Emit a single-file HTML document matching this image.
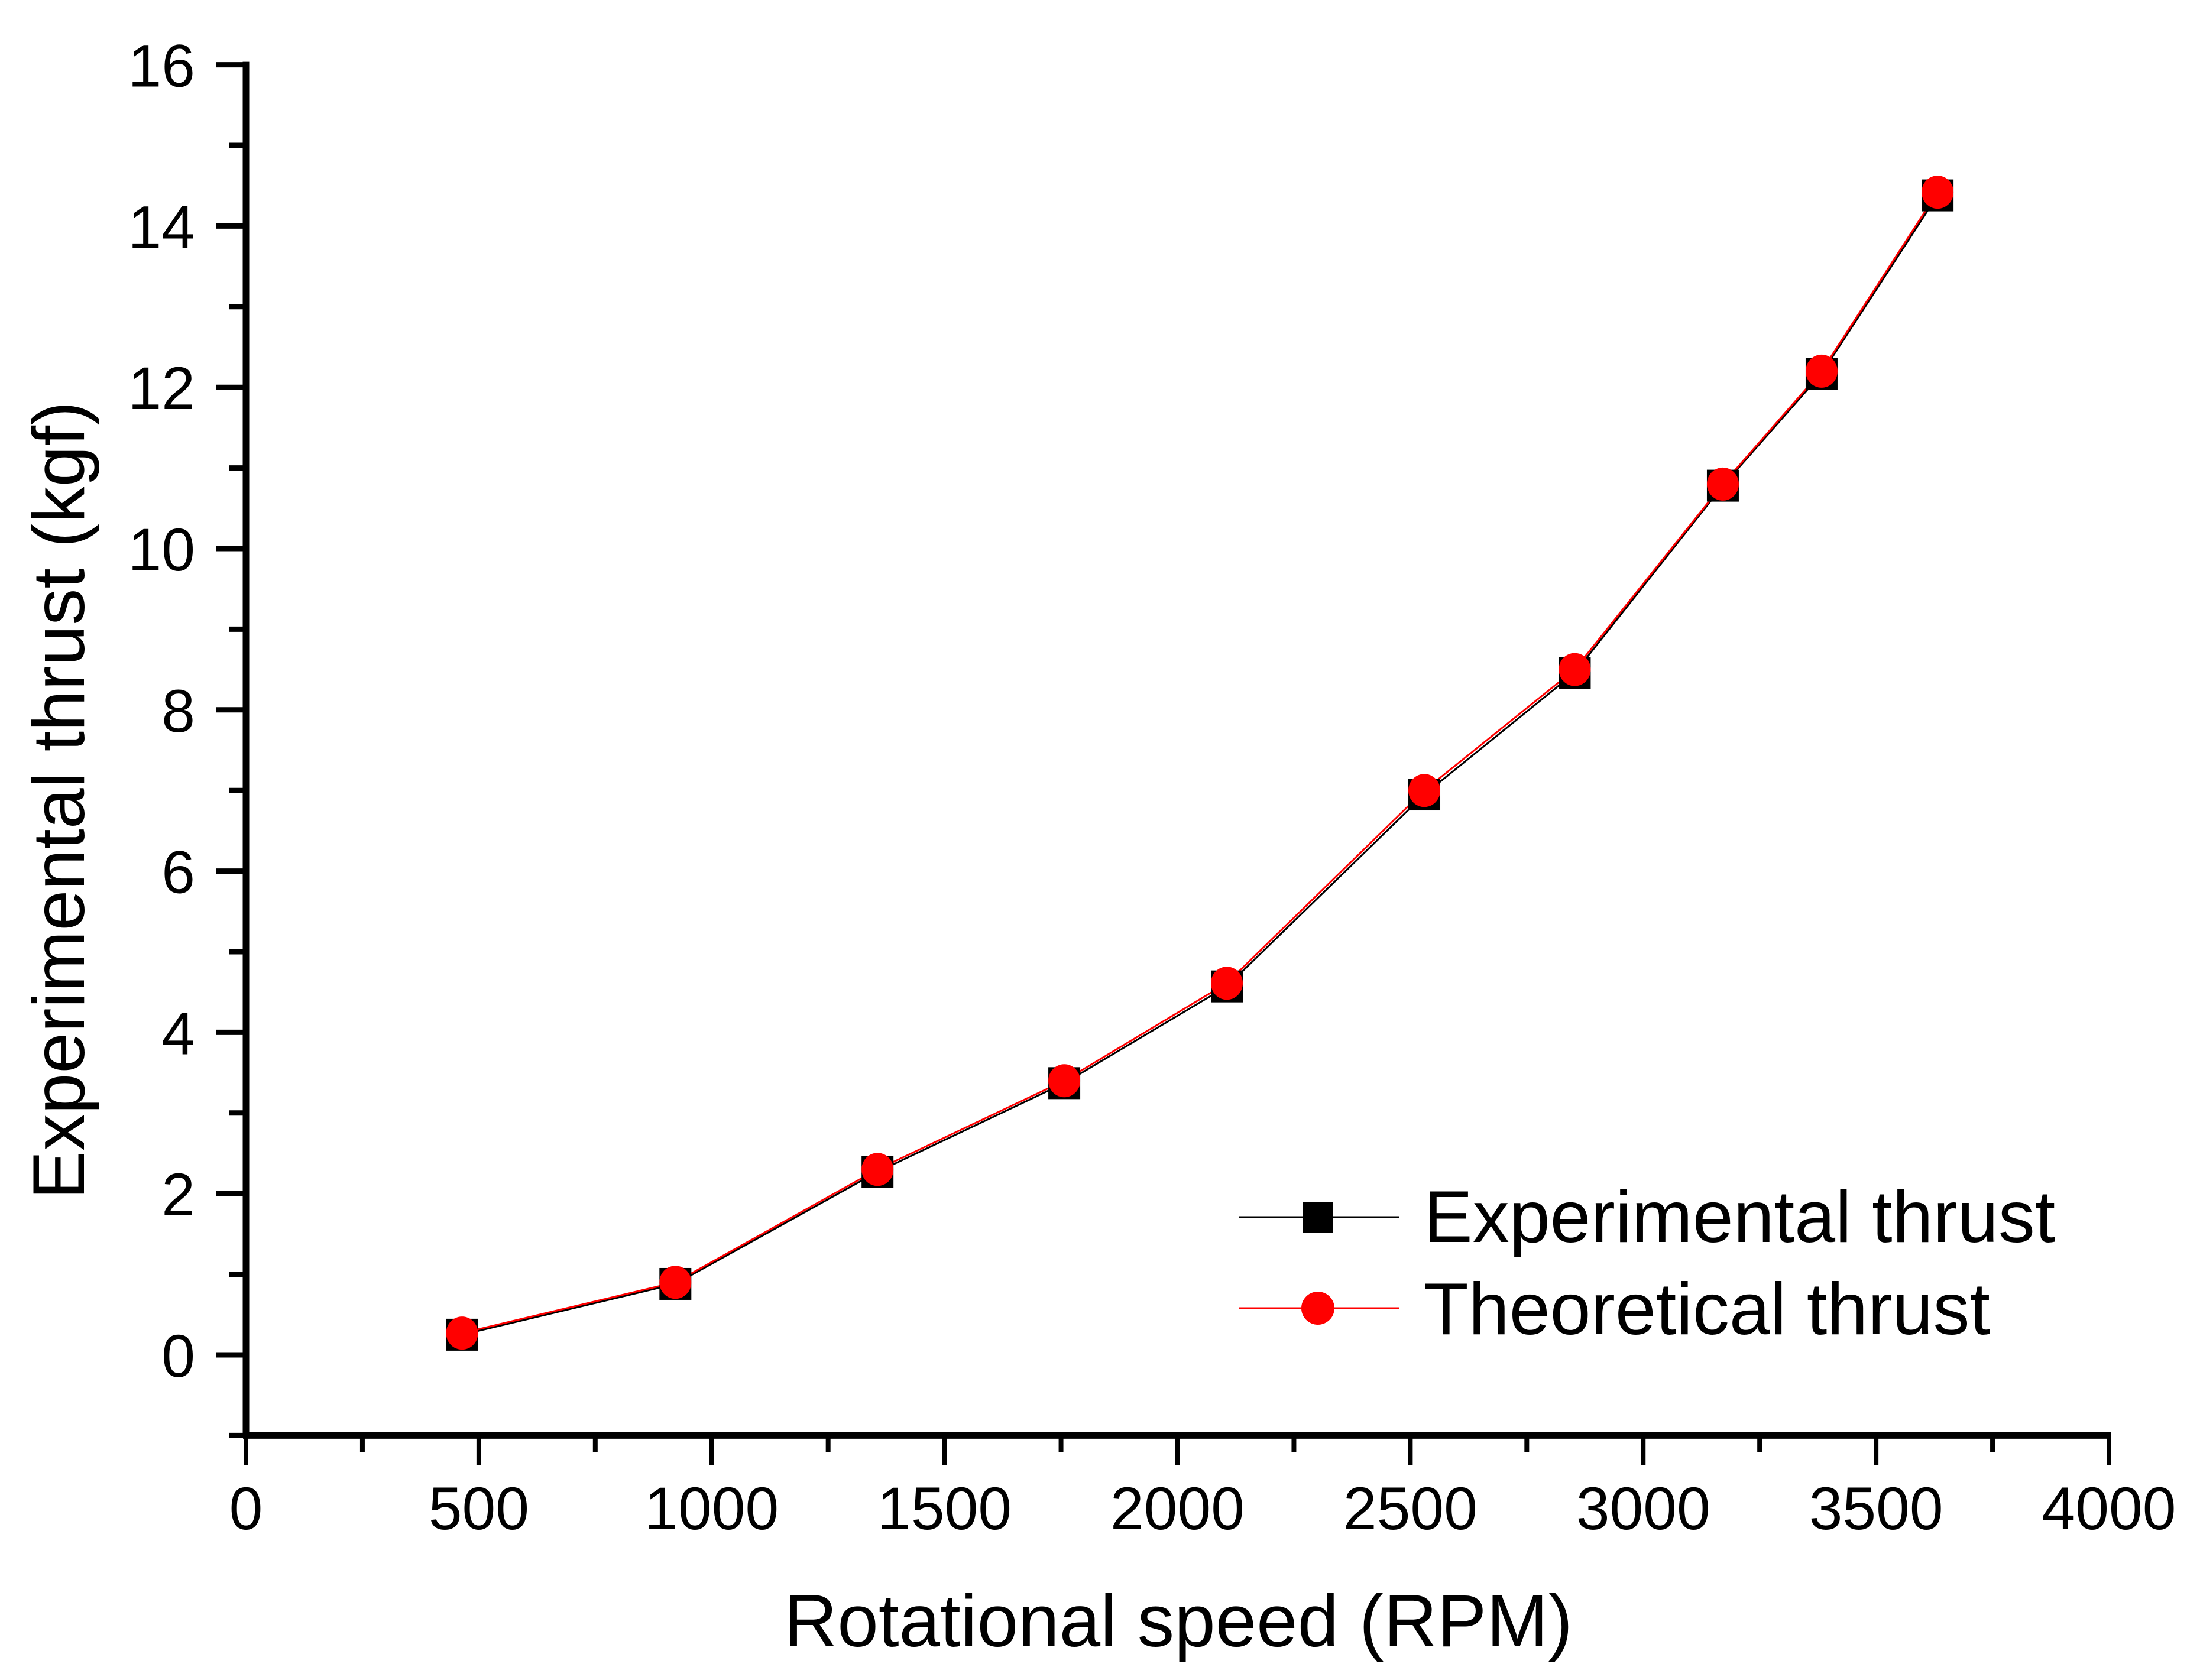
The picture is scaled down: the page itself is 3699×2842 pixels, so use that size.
<!DOCTYPE html>
<html><head><meta charset="utf-8"><style>
html,body{margin:0;padding:0;background:#fff;}
svg{display:block;font-family:"Liberation Sans",Arial,sans-serif;}
</style></head><body>
<svg id="chart" width="3699" height="2842" viewBox="0 0 3699 2842" xmlns="http://www.w3.org/2000/svg">
<g id="axes"></g>
<g id="series"></g>
<text x="1993" y="2785" font-size="125" text-anchor="middle">Rotational speed (RPM)</text>
<text transform="translate(142,1354) rotate(-90)" font-size="124" text-anchor="middle">Experimental thrust (kgf)</text>
<g>
<line x1="2095" y1="2059" x2="2366" y2="2059" stroke="#000" stroke-width="3"/>
<rect x="2203" y="2033" width="52" height="52" fill="#000"/>
<text x="2408" y="2101" font-size="124">Experimental thrust</text>
<line x1="2095" y1="2213" x2="2366" y2="2213" stroke="#f00" stroke-width="3"/>
<circle cx="2229" cy="2213" r="28" fill="#f00"/>
<text x="2408" y="2257" font-size="124">Theoretical thrust</text>
</g>
</svg>
<script>
const rpm = [464, 922, 1356, 1757, 2106, 2530, 2853, 3171, 3383, 3632];
const experimental = [0.25, 0.88, 2.27, 3.37, 4.57, 6.95, 8.46, 10.78, 12.17, 14.38];
const theoretical = [0.27, 0.9, 2.3, 3.4, 4.61, 7.0, 8.5, 10.8, 12.2, 14.42];
const xTicks = [0, 500, 1000, 1500, 2000, 2500, 3000, 3500, 4000];
const yTicks = [0, 2, 4, 6, 8, 10, 12, 14, 16];

const NS = "http://www.w3.org/2000/svg";
const X0 = 416, X1 = 3567, Y0 = 2292, YU = 136.4;
function sx(v){ return X0 + (v/4000)*(X1-X0); }
function sy(v){ return Y0 - v*YU; }
function mk(tag, attrs, parent){
  const e = document.createElementNS(NS, tag);
  for (const k in attrs) e.setAttribute(k, attrs[k]);
  parent.appendChild(e); return e;
}
const axes = document.getElementById('axes');
const series = document.getElementById('series');
const yBot = sy(-1), yTop = sy(16);
let e;
e = mk('line', {x1:X0-5, y1:yBot, x2:X1+4, y2:yBot, stroke:'#000', 'stroke-width':11}, axes);


e = mk('line', {x1:X0, y1:yBot+4, x2:X0, y2:yTop-5, stroke:'#000', 'stroke-width':11}, axes);


for (let v = 0; v <= 4000; v += 250) {
  const major = v % 500 === 0;
  e = mk('line', {x1:sx(v), y1:yBot, x2:sx(v), y2:yBot + (major?50:28), stroke:'#000', 'stroke-width':8}, axes);
  
  
}
xTicks.forEach(v => {
  e = mk('text', {x:sx(v), y:2587, 'font-size':102, 'text-anchor':'middle'}, axes);
  e.textContent = String(v);
  
  
});
for (let v = -1; v <= 16; v += 1) {
  const major = v % 2 === 0;
  e = mk('line', {x1:X0, y1:sy(v), x2:X0 - (major?50:28), y2:sy(v), stroke:'#000', 'stroke-width':9}, axes);
  
  
}
yTicks.forEach(v => {
  e = mk('text', {x:330, y:sy(v)+37, 'font-size':102, 'text-anchor':'end'}, axes);
  e.textContent = String(v);
  
  
});
const pe = rpm.map((r,i)=>sx(r)+','+sy(experimental[i])).join(' ');
e = mk('polyline', {points:pe, fill:'none', stroke:'#000', 'stroke-width':3}, series);


const pt = rpm.map((r,i)=>sx(r)+','+sy(theoretical[i])).join(' ');
e = mk('polyline', {points:pt, fill:'none', stroke:'#f00', 'stroke-width':3}, series);


rpm.forEach((r,i) => {
  e = mk('rect', {x:sx(r)-27, y:sy(experimental[i])-27, width:54, height:54, fill:'#000'}, series);
  
  
});
rpm.forEach((r,i) => {
  e = mk('ellipse', {cx:sx(r), cy:sy(theoretical[i]), rx:27, ry:28, fill:'#f00'}, series);
  
  
});
</script>
</body></html>
